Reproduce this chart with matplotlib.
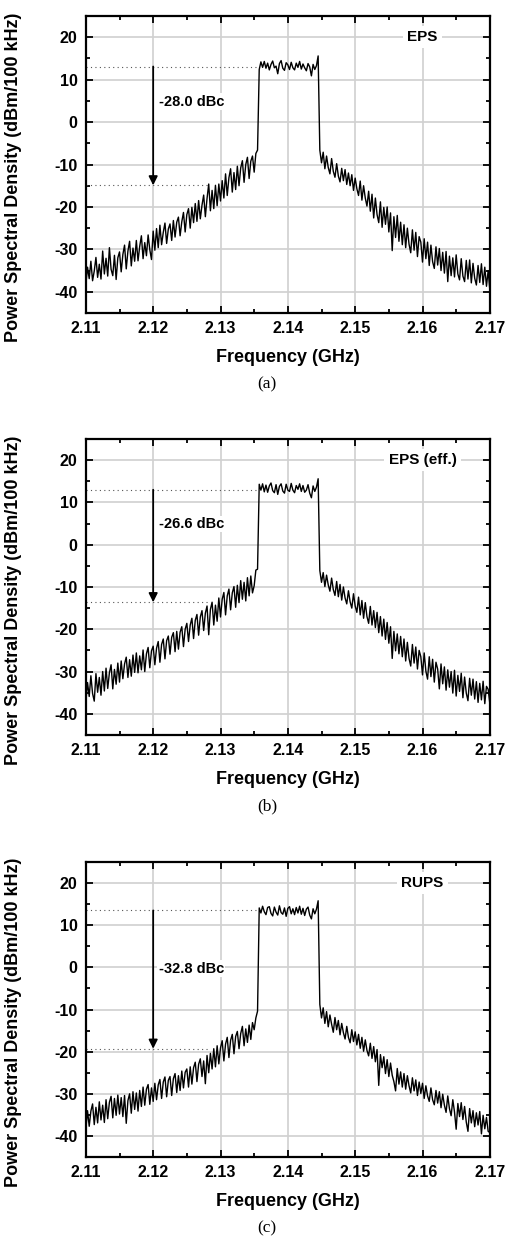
import numpy as np
import matplotlib
matplotlib.use('Agg')
import matplotlib.pyplot as plt
from matplotlib.ticker import MultipleLocator

plt.rcParams['font.family'] = ['Liberation Sans', 'DejaVu Sans']
plt.rcParams['axes.unicode_minus'] = False

# frequency grid (GHz), 0.25 MHz steps from 2.110 to 2.170
freq = np.round(np.arange(241) * 0.00025 + 2.110, 5)

# PSD traces (dBm/100 kHz): lower skirt, carrier, upper skirt
psd_eps = [
    -38.3, -34.2, -36.9, -32.8, -37.4, -35.1, -31.9, -36.6, -33.5, -37.0,
    -30.4, -35.8, -32.1, -36.3, -29.6, -34.7, -36.2, -31.4, -37.1, -32.0,
    -30.6, -35.3, -31.2, -29.0, -34.6, -30.4, -28.1, -33.9, -29.7, -32.8,
    -27.9, -32.7, -29.3, -26.8, -32.2, -28.4, -31.5, -26.6, -30.1, -32.4,
    -25.7, -30.2, -25.1, -29.6, -24.3, -28.9, -26.0, -23.8, -28.6, -25.2,
    -24.0, -27.9, -23.2, -27.1, -23.6, -22.4, -26.8, -23.5, -21.3, -25.9,
    -21.8, -20.4, -25.0, -20.1, -23.7, -19.2, -23.4, -18.5, -22.8, -19.6,
    -17.2, -22.3, -18.0, -14.6, -20.9, -16.1, -20.4, -14.9, -19.7, -14.6,
    -18.6, -13.8, -17.9, -12.2, -17.3, -13.1, -11.0, -16.5, -11.9, -15.9,
    -10.4, -15.0, -10.8, -9.1, -14.2, -10.0, -8.3, -13.3, -9.2, -8.0,
    -11.8, -7.4, -6.6,
    12.4, 14.2, 12.9, 14.3, 12.7, 13.9, 12.3, 13.6, 14.4, 12.8,
    13.2, 11.4, 13.8, 14.5, 12.7, 12.2, 14.0, 13.5, 12.4, 14.1,
    12.8, 12.3, 13.9, 12.9, 14.3, 12.5, 13.7, 12.8, 12.1, 13.8,
    13.0, 10.9, 13.6, 12.4, 13.3, 15.6,
    -6.6, -9.6, -7.1, -11.0, -8.0, -10.7, -12.2, -8.6, -11.6, -13.0,
    -9.8, -12.7, -14.1, -10.9, -13.8, -11.2, -14.7, -12.0, -15.0, -12.4,
    -16.1, -13.2, -15.7, -17.3, -13.9, -18.4, -15.0, -17.9, -19.8, -16.3,
    -21.0, -17.0, -22.6, -17.9, -21.8, -23.7, -18.8, -24.8, -20.1, -24.1,
    -20.0, -25.9, -21.4, -30.3, -22.3, -27.2, -22.0, -28.1, -23.6, -28.9,
    -24.2, -29.6, -25.0, -28.8, -30.8, -25.4, -30.2, -26.0, -31.7, -27.0,
    -28.3, -33.0, -27.5, -32.2, -28.3, -33.8, -29.0, -32.9, -34.5, -29.4,
    -33.7, -29.8, -35.0, -30.7, -35.6, -30.5, -37.6, -31.6, -36.2, -32.0,
    -36.5, -31.3, -35.8, -37.2, -32.2, -36.3, -37.6, -32.6, -37.0, -32.5,
    -37.9, -33.3, -36.8, -38.4, -33.8, -37.8, -33.4, -38.3, -34.2, -38.7,
    -35.0, -39.6,
]

psd_eps_eff = [
    -37.2, -32.6, -35.9, -31.0, -35.2, -37.0, -30.5, -34.9, -31.4, -35.6,
    -30.0, -34.6, -29.2, -34.0, -30.3, -28.4, -34.1, -29.5, -33.0, -28.0,
    -32.5, -27.5, -31.7, -28.2, -26.6, -31.4, -27.2, -31.1, -26.1, -30.2,
    -25.6, -30.3, -26.3, -29.6, -24.9, -30.0, -25.8, -24.3, -29.1, -25.1,
    -24.0, -28.4, -24.5, -22.9, -27.8, -23.6, -22.3, -27.0, -22.7, -21.6,
    -25.9, -21.9, -20.8, -25.3, -20.5, -24.7, -20.7, -19.4, -24.1, -20.0,
    -18.6, -22.9, -19.0, -17.4, -22.2, -17.9, -16.5, -21.4, -17.1, -15.6,
    -20.3, -16.2, -14.5, -21.3, -15.3, -13.6, -19.0, -14.3, -18.1, -12.6,
    -17.1, -12.9, -11.3, -16.6, -12.1, -10.5, -15.4, -11.4, -9.9, -14.8,
    -9.6, -13.7, -8.5, -12.9, -8.9, -13.3, -7.8, -12.1, -7.4, -11.4,
    -9.7, -6.0, -5.8,
    14.3, 12.9, 14.4, 12.5, 14.1, 12.4, 13.9, 14.6, 12.8, 12.3,
    14.2, 11.9, 13.8, 14.4, 12.7, 12.2, 14.3, 12.9, 12.6, 14.5,
    12.9, 12.3, 14.0, 13.1, 14.4, 12.6, 14.0, 12.4, 12.9, 14.2,
    12.2, 11.1, 13.9, 12.6, 13.6, 15.6,
    -6.1, -8.9, -6.6, -9.9, -7.2, -9.5, -11.0, -7.9, -10.6, -12.0,
    -8.7, -12.3, -9.4, -13.1, -10.0, -12.6, -14.0, -10.9, -13.5, -15.0,
    -11.6, -14.5, -16.0, -12.4, -16.6, -13.2, -17.4, -13.7, -17.0, -18.6,
    -14.6, -19.0, -15.6, -19.6, -16.0, -20.8, -17.0, -21.6, -17.6, -22.4,
    -18.4, -23.3, -19.4, -26.9, -20.5, -25.1, -21.1, -25.8, -21.7, -26.5,
    -22.3, -27.5, -23.1, -26.9, -28.7, -23.6, -28.0, -24.2, -29.4, -25.0,
    -26.5, -30.8, -25.6, -29.9, -31.8, -26.5, -31.2, -27.1, -32.5, -27.8,
    -29.4, -34.1, -28.2, -32.9, -28.9, -34.4, -29.6, -33.7, -30.0, -35.1,
    -29.7, -35.8, -30.9, -34.7, -30.4, -36.2, -31.3, -35.1, -36.9, -31.6,
    -35.6, -31.8, -36.5, -32.4, -37.3, -32.8, -36.7, -32.3, -37.6, -33.5,
    -34.2, -37.6,
]

psd_rups = [
    -38.4, -34.0, -37.7, -34.1, -32.4, -37.3, -33.2, -36.9, -31.9, -36.2,
    -32.7, -36.8, -31.4, -35.9, -32.0, -30.6, -35.7, -31.1, -35.1, -30.3,
    -34.8, -30.9, -35.4, -30.4, -37.0, -31.6, -30.0, -34.6, -29.5, -33.7,
    -29.8, -34.1, -29.2, -33.0, -28.4, -32.7, -28.9, -27.8, -32.5, -28.6,
    -31.8, -27.5, -31.4, -27.9, -26.6, -31.1, -27.2, -26.0, -30.7, -26.8,
    -25.9, -30.4, -26.4, -25.2, -29.7, -25.7, -29.2, -24.6, -28.6, -24.9,
    -24.1, -28.4, -23.6, -27.7, -23.8, -22.5, -27.1, -23.0, -21.7, -25.9,
    -22.2, -27.6, -20.9, -25.0, -20.4, -24.1, -19.3, -23.6, -18.6, -22.9,
    -19.1, -17.4, -22.2, -18.2, -16.6, -21.4, -17.3, -15.9, -20.5, -16.4,
    -15.2, -19.3, -15.7, -14.0, -18.6, -14.6, -17.8, -13.7, -17.1, -13.1,
    -14.8, -12.0, -10.4,
    14.1, 12.9, 14.5, 13.2, 12.5, 14.2, 14.4, 12.8, 12.2, 14.3,
    13.1, 12.4, 14.6, 13.0, 12.6, 14.1, 12.1, 14.0, 14.4, 12.7,
    13.9, 12.5, 14.2, 12.9, 14.5, 12.6, 14.0, 12.3, 13.8, 14.3,
    12.4, 11.5, 13.9, 12.7, 13.8, 15.8,
    -8.8, -12.0, -9.6, -13.3, -10.5, -14.1, -11.3, -13.5, -15.4, -11.9,
    -14.8, -12.6, -16.0, -13.3, -15.5, -17.0, -14.0, -16.6, -17.9, -14.8,
    -17.6, -15.3, -18.4, -15.9, -19.2, -16.6, -19.9, -17.2, -19.7, -21.0,
    -18.0, -21.6, -18.8, -22.4, -19.5, -28.0, -20.7, -23.8, -21.2, -25.2,
    -21.9, -25.9, -22.7, -25.6, -27.1, -29.3, -24.0, -27.7, -24.8, -28.4,
    -25.2, -28.9, -25.7, -28.1, -29.8, -26.2, -29.3, -26.7, -30.4, -27.2,
    -29.9, -27.5, -31.1, -28.1, -30.5, -31.8, -28.6, -31.4, -32.6, -29.2,
    -32.2, -29.5, -33.3, -30.1, -32.7, -34.4, -30.5, -33.5, -35.2, -31.4,
    -34.3, -38.4, -32.3, -35.4, -32.1, -36.1, -33.0, -36.7, -38.9, -33.5,
    -36.9, -34.0, -37.8, -34.5, -37.4, -34.2, -39.5, -35.1, -38.3, -35.6,
    -38.9, -39.2,
]

labels = ['EPS', 'EPS (eff.)', 'RUPS']
captions = ['(a)', '(b)', '(c)']
carrier_level = [13.1, 13.0, 13.5]
aclr_dbc = [-28.0, -26.6, -32.8]
aclr_text_y = [4.8, 4.9, -0.3]

traces = [psd_eps, psd_eps_eff, psd_rups]

fig = plt.figure(figsize=(5.14, 12.44), dpi=100)

# axes boxes in figure fractions [left, bottom, width, height]
boxes = [
    [0.167, 0.7484, 0.786, 0.2387],
    [0.167, 0.4092, 0.786, 0.2379],
    [0.167, 0.0699, 0.786, 0.2372],
]
caption_y = [0.691, 0.352, 0.0125]

xt = np.round(np.arange(2.11, 2.171, 0.01), 2)

for i in range(3):
    ax = fig.add_axes(boxes[i])
    ax.plot(freq, traces[i], color='black', lw=1.0, zorder=3)

    ax.set_xlim(2.11, 2.17)
    ax.set_ylim(-45, 25)
    ax.xaxis.set_minor_locator(MultipleLocator(0.005))
    ax.yaxis.set_minor_locator(MultipleLocator(5))
    ax.set_xticks(xt)
    ax.set_xticklabels(['%.2f' % v for v in xt])
    ax.set_yticks([-40, -30, -20, -10, 0, 10, 20])

    ax.grid(True, which='major', color='#d0d0d0', lw=1.2, zorder=0)
    ax.tick_params(which='both', direction='in', top=True, right=True,
                   width=1.3, labelsize=11.5)
    ax.tick_params(which='major', length=5, pad=6)
    ax.tick_params(which='minor', length=3)
    for lbl in ax.get_xticklabels() + ax.get_yticklabels():
        lbl.set_fontweight('bold')
    for s in ax.spines.values():
        s.set_linewidth(1.6)

    ax.set_xlabel('Frequency (GHz)', fontsize=13, fontweight='bold',
                  labelpad=9)
    ax.set_ylabel('Power Spectral Density (dBm/100 kHz)', fontsize=13,
                  fontweight='bold')
    ax.yaxis.set_label_coords(-0.158, 0.456)

    top = carrier_level[i]
    low = top + aclr_dbc[i]
    ax.plot([2.11, 2.1354], [top, top], ls=(0, (1, 3)), color='#555555',
            lw=0.8, zorder=2)
    ax.plot([2.11, 2.1282], [low, low], ls=(0, (1, 3)), color='#555555',
            lw=0.8, zorder=2)
    ax.annotate('', xy=(2.12, low), xytext=(2.12, top),
                arrowprops=dict(arrowstyle='-|>', color='black', lw=1.3,
                                mutation_scale=13, shrinkA=0, shrinkB=0),
                zorder=4)
    ax.text(2.1208, aclr_text_y[i], '%.1f dBc' % aclr_dbc[i], fontsize=10.5,
            fontweight='bold', va='center', ha='left', zorder=4,
            bbox=dict(facecolor='white', edgecolor='none', pad=1))

    ax.text(2.160, 20, labels[i], fontsize=11, fontweight='bold',
            ha='center', va='center', zorder=4,
            bbox=dict(facecolor='white', edgecolor='none', pad=3))

    fig.text(0.52, caption_y[i], captions[i], fontsize=12.5,
             family=['Liberation Serif', 'DejaVu Serif'], ha='center',
             va='center')

fig.savefig('out.png', dpi=100)
